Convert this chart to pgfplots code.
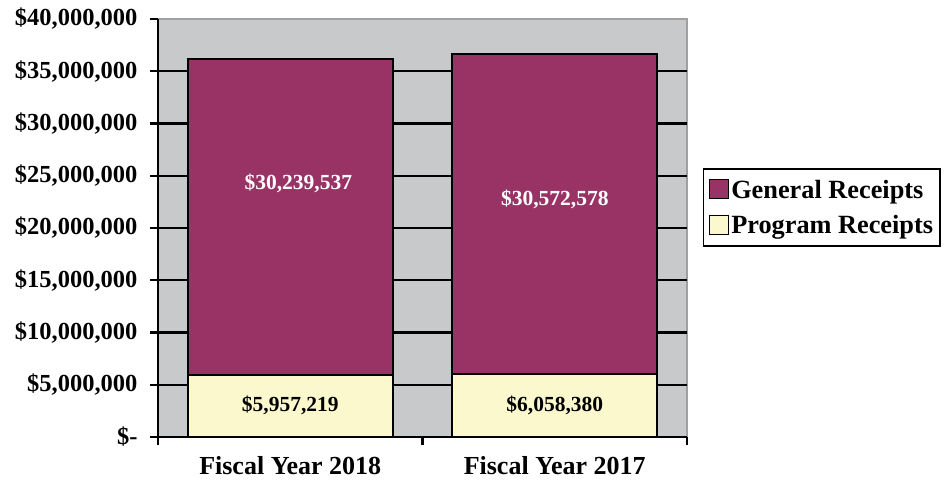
\documentclass[border=0pt]{standalone}
\usepackage{pgfplots}
\usepackage{pgfplotstable}
\pgfplotsset{compat=1.18}
\usepackage{fontspec}
\setmainfont{Liberation Serif}

\definecolor{plum}{RGB}{153,51,102}
\definecolor{cream}{RGB}{250,248,204}
\definecolor{panel}{RGB}{200,201,203}
\definecolor{rim}{RGB}{160,160,160}

% x y label dx dy  (dx, dy: label offset from the segment centre)
\pgfplotstableread{
x y label dx dy
0 5957219 \$5,957,219 0 0
1 6058380 \$6,058,380 0 0
}\programdata
\pgfplotstableread{
x y label dx dy
0 30239537 \$30,239,537 8 33
1 30572578 \$30,572,578 0 15
}\generaldata

\begin{document}
\begin{tikzpicture}
\useasboundingbox (0,0) rectangle (945pt,481pt);
\begin{axis}[
    at={(158pt,44pt)}, anchor=south west,
    scale only axis, width=529pt, height=418pt,
    ybar stacked, bar width=205pt,
    xmin=-0.5, xmax=1.5, ymin=0, ymax=40000000,
    axis x line*=bottom, axis y line*=left,
    axis line style={black, line width=2.4pt, -},
    axis background/.style={fill=panel, draw=rim, line width=2.4pt},
    tick align=outside, major tick length=8pt,
    tick style={black, line width=2.2pt},
    xtick={-0.5,0.5,1.5}, xticklabels={},
    extra x ticks={0,1},
    extra x tick labels={Fiscal Year 2018, Fiscal Year 2017},
    extra x tick style={major tick length=0pt,
        xticklabel style={font=\fontsize{26}{30}\selectfont\bfseries, yshift=-16pt}},
    ytick={0,5000000,10000000,15000000,20000000,25000000,30000000,35000000},
    yticklabels={\$-, \$5{,}000{,}000, \$10{,}000{,}000, \$15{,}000{,}000, \$20{,}000{,}000,
                 \$25{,}000{,}000, \$30{,}000{,}000, \$35{,}000{,}000},
    extra y ticks={40000000}, extra y tick labels={\$40{,}000{,}000},
    extra y tick style={grid=none},
    scaled y ticks=false,
    yticklabel style={font=\fontsize{24.5}{29}\selectfont\bfseries, xshift=-9pt},
    ymajorgrids, major grid style={black, line width=2.2pt},
    legend style={at={(1.030,0.549)}, anchor=west, draw=black, line width=1.6pt,
        font=\fontsize{26.3}{31}\selectfont\bfseries, inner xsep=5pt, inner ysep=9pt,
        row sep=12pt},
    legend cell align=left, reverse legend,
    legend image code/.code={\draw[#1, draw=black, line width=1.6pt] (0pt,-9pt) rectangle (19pt,10pt);},
    point meta=explicit symbolic,
    visualization depends on={\thisrow{dx} \as \labeldx},
    visualization depends on={\thisrow{dy} \as \labeldy},
    nodes near coords,
    every node near coord/.append style={anchor=center, xshift=\labeldx pt, yshift=\labeldy pt,
        font=\fontsize{21.5}{25}\selectfont\bfseries},
]
\addplot[fill=cream, draw=black, line width=2.2pt,
    every node near coord/.append style={text=black}]
    table[x=x, y=y, meta=label] {\programdata};
\addplot[fill=plum, draw=black, line width=2.2pt,
    every node near coord/.append style={text=white}]
    table[x=x, y=y, meta=label] {\generaldata};
\legend{Program Receipts, General Receipts}
\end{axis}
\end{tikzpicture}
\end{document}
